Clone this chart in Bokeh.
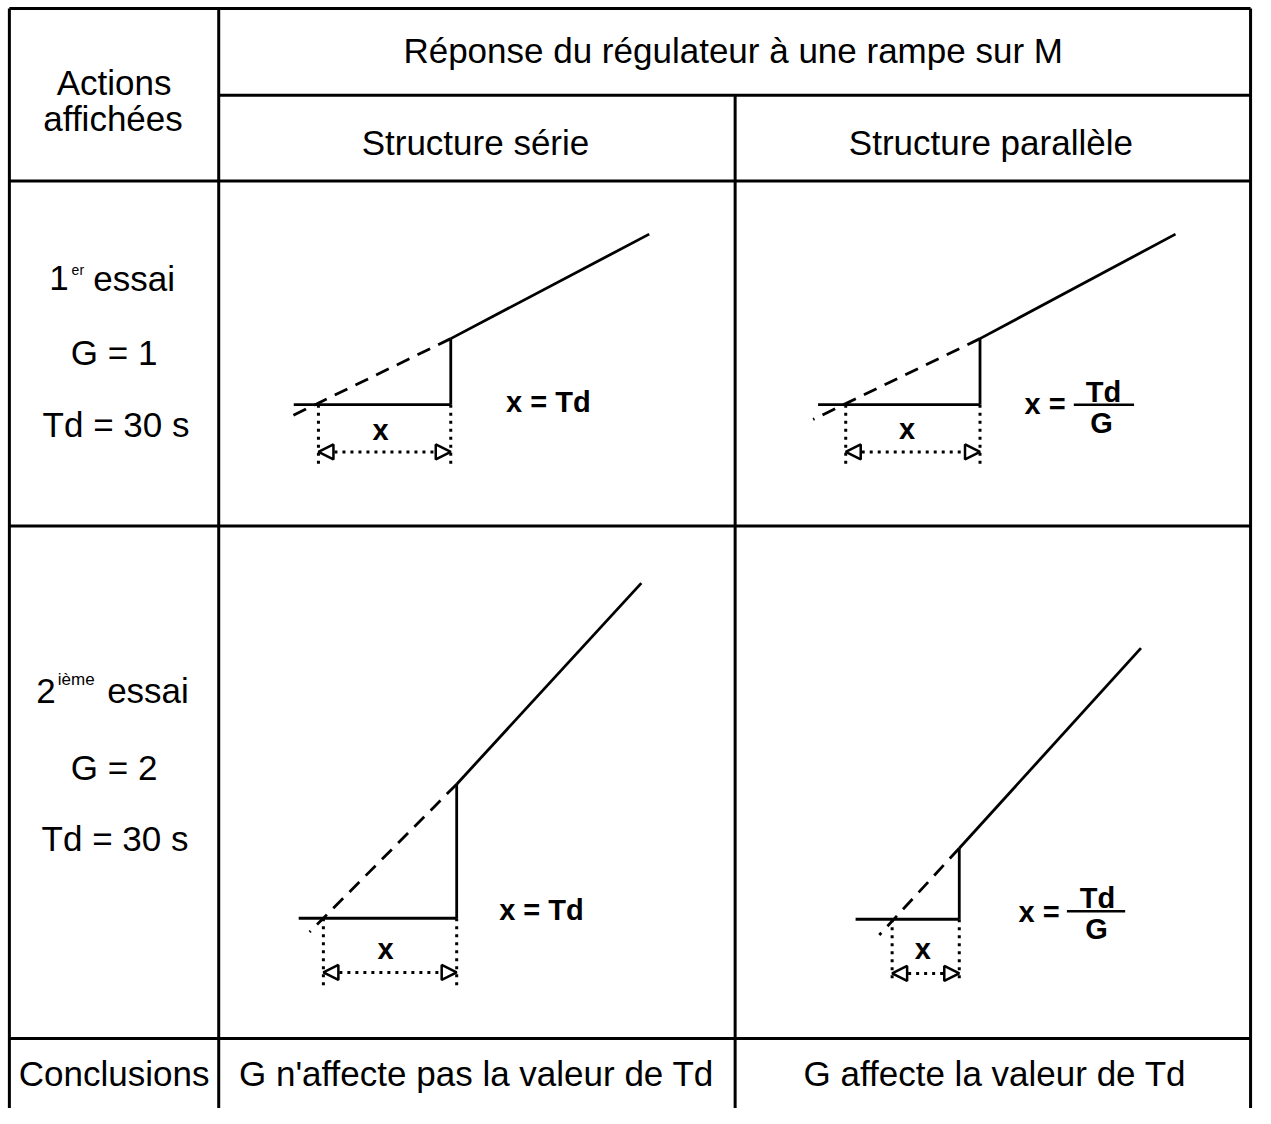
from bokeh.plotting import figure
from bokeh.models import Range1d, Arrow, NormalHead, ColumnDataSource
from bokeh.core.properties import value
from bokeh.embed import file_html
from bokeh.resources import INLINE

FONT = value("Liberation Sans")

# ---- table grid (pixel coordinates of the reference drawing) ----
h_x0 = [9, 221, 9, 9, 9]
h_x1 = [1266, 1266, 1266, 1266, 1266]
h_y = [8, 96, 183, 533, 1053]
v_x = [9, 221, 744, 1266]
v_y0 = [8, 8, 96, 8]
v_y1 = [1124, 1124, 1124, 1124]

# ---- response diagrams: [serie G=1, parallele G=1, serie G=2, parallele G=2] ----
base_x0 = [297, 828, 302, 866]
step_x = [456, 992, 462, 971]
base_y = [410, 410, 931, 932]
step_top_y = [343, 343, 795, 860]
ramp_end_x = [657, 1190, 649, 1155]
ramp_end_y = [237, 237, 591, 657]
dash_end_x = [292, 823, 313, 890]
dash_end_y = [423, 425, 945, 948]
mark_x = [322, 856, 327, 903]
mark_bottom_y = [475, 473, 1000, 997]
arrow_y = [458, 458, 986, 987]

# ---- texts ----
main_text = ["Actions", "affichées", "Réponse du régulateur à une rampe sur M",
             "Structure série", "Structure parallèle",
             "G = 1", "Td = 30 s", "G = 2", "Td = 30 s",
             "Conclusions", "G n'affecte pas la valeur de Td", "G affecte la valeur de Td"]
main_x = [115, 114, 742, 481, 1003, 115, 117, 115, 116, 115, 482, 1007]
main_y = [83, 120, 51, 144, 144, 357, 430, 778, 850, 1088, 1088, 1088]

trial_num = ["1", "2"]
trial_num_x = [69, 56]
trial_num_y = [282, 700]
trial_sup = ["er", "ième"]
trial_sup_x = [72, 58]
trial_sup_y = [273, 689]
trial_sup_size = ["14px", "17px"]
trial_word = ["essai", "essai"]
trial_word_x = [94, 108]
trial_word_y = [282, 700]

x_label = ["x", "x", "x", "x"]
x_label_x = [385, 918, 390, 934]
x_label_y = [436, 435, 962, 962]

eq_serie = ["x = Td", "x = Td"]
eq_serie_x = [512, 505]
eq_serie_y = [407, 923]

eq_par = ["x =", "x ="]
eq_par_x = [1037, 1031]
eq_par_y = [409, 925]
frac_num = ["Td", "Td"]
frac_num_x = [1117, 1111]
frac_num_y = [397, 910]
frac_den = ["G", "G"]
frac_den_x = [1115, 1110]
frac_den_y = [429, 942]
frac_x0 = [1087, 1080]
frac_x1 = [1148, 1139]
frac_y = [410, 924]

W, H = 1255, 1108
p = figure(width=W, height=H, x_range=Range1d(0, 1271), y_range=Range1d(1124, 0),
           output_backend="svg", toolbar_location=None, min_border=0,
           x_axis_type=None, y_axis_type=None)
p.grid.visible = False
p.outline_line_color = None
p.background_fill_color = "white"
p.border_fill_color = "white"

# grid lines
p.segment(x0=h_x0, y0=h_y, x1=h_x1, y1=h_y, line_width=3, line_color="black")
p.segment(x0=v_x, y0=v_y0, x1=v_x, y1=v_y1, line_width=3, line_color="black")

# diagrams
p.segment(x0=base_x0, y0=base_y, x1=step_x, y1=base_y, line_width=2.8, line_color="black")
p.segment(x0=step_x, y0=base_y, x1=step_x, y1=step_top_y, line_width=2.8, line_color="black")
p.segment(x0=step_x, y0=step_top_y, x1=ramp_end_x, y1=ramp_end_y, line_width=2.8, line_color="black")
p.segment(x0=step_x, y0=step_top_y, x1=dash_end_x, y1=dash_end_y, line_width=2.8,
          line_color="black", line_dash="14 9")
p.segment(x0=mark_x, y0=base_y, x1=mark_x, y1=mark_bottom_y, line_width=3,
          line_color="black", line_dash="3 5")
p.segment(x0=step_x, y0=base_y, x1=step_x, y1=mark_bottom_y, line_width=3,
          line_color="black", line_dash="3 5")

arrow_src = ColumnDataSource(dict(x0=mark_x, x1=step_x, y=arrow_y))
p.add_layout(Arrow(
    start=NormalHead(size=15, fill_color="white", line_color="black", line_width=2.5),
    end=NormalHead(size=15, fill_color="white", line_color="black", line_width=2.5),
    x_start="x0", y_start="y", x_end="x1", y_end="y", source=arrow_src,
    line_color="black", line_width=3, line_dash="3 5"))

# fraction bars
p.segment(x0=frac_x0, y0=frac_y, x1=frac_x1, y1=frac_y, line_width=2.5, line_color="black")

SIZE = "35px"
p.text(x=main_x, y=main_y, text=main_text, text_font=FONT, text_font_size=SIZE,
       text_align="center", text_baseline="middle", text_color="black")
p.text(x=trial_num_x, y=trial_num_y, text=trial_num, text_font=FONT, text_font_size=SIZE,
       text_align="right", text_baseline="middle", text_color="black")
p.text(x=trial_sup_x, y=trial_sup_y, text=trial_sup, text_font=FONT,
       text_font_size=trial_sup_size,
       text_align="left", text_baseline="middle", text_color="black")
p.text(x=trial_word_x, y=trial_word_y, text=trial_word, text_font=FONT, text_font_size=SIZE,
       text_align="left", text_baseline="middle", text_color="black")

BSIZE = "29px"
p.text(x=x_label_x, y=x_label_y, text=x_label, text_font=FONT, text_font_size=BSIZE,
       text_font_style="bold", text_align="center", text_baseline="middle", text_color="black")
p.text(x=eq_serie_x, y=eq_serie_y, text=eq_serie, text_font=FONT, text_font_size=BSIZE,
       text_font_style="bold", text_align="left", text_baseline="middle", text_color="black")
p.text(x=eq_par_x, y=eq_par_y, text=eq_par, text_font=FONT, text_font_size=BSIZE,
       text_font_style="bold", text_align="left", text_baseline="middle", text_color="black")
p.text(x=frac_num_x, y=frac_num_y, text=frac_num, text_font=FONT, text_font_size=BSIZE,
       text_font_style="bold", text_align="center", text_baseline="middle", text_color="black")
p.text(x=frac_den_x, y=frac_den_y, text=frac_den, text_font=FONT, text_font_size=BSIZE,
       text_font_style="bold", text_align="center", text_baseline="middle", text_color="black")

open("out.html", "w").write(file_html(p, INLINE))
